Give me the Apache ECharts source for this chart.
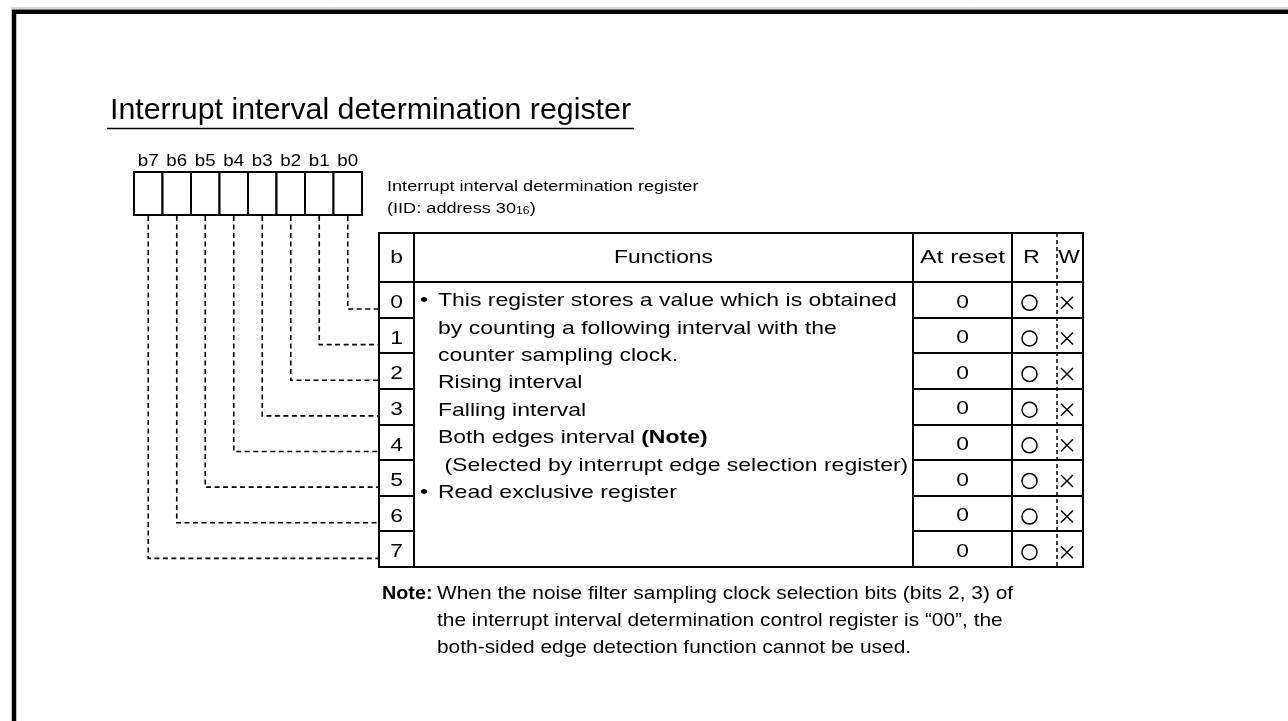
<!DOCTYPE html>
<html><head><meta charset="utf-8">
<script src="https://cdn.jsdelivr.net/npm/echarts@6/dist/echarts.min.js"></script>
<style>html,body{margin:0;padding:0;background:#fff}#c{width:1288px;height:721px}</style>
</head><body><div id="c"></div>
<script>
// ---------------- data ----------------
const titleText = 'Interrupt interval determination register';
const registerName = 'Interrupt interval determination register';
const registerAddress = ['(IID: address 30', '16', ')'];
const bitLabels = ['b7', 'b6', 'b5', 'b4', 'b3', 'b2', 'b1', 'b0'];
const headerLabels = ['b', 'Functions', 'At reset', 'R', 'W'];
const rowBits = ['0', '1', '2', '3', '4', '5', '6', '7'];
const resetValues = ['0', '0', '0', '0', '0', '0', '0', '0'];
const readAccess = ['○', '○', '○', '○', '○', '○', '○', '○'];
const writeAccess = ['×', '×', '×', '×', '×', '×', '×', '×'];
const functionLines = [
  'This register stores a value which is obtained',
  'by counting a following interval with the',
  'counter sampling clock.',
  'Rising interval',
  'Falling interval',
  'Both edges interval {b|(Note)}',
  ' (Selected by interrupt edge selection register)',
  'Read exclusive register'
];
const bulletLines = [0, 7];
const noteLabel = 'Note:';
const noteLines = [
  'When the noise filter sampling clock selection bits (bits 2, 3) of',
  'the interrupt interval determination control register is \u201c00\u201d, the',
  'both-sided edge detection function cannot be used.'
];

// ---------------- layout / style ----------------
const FF = '"Liberation Sans", Arial, Helvetica, sans-serif';
const L = {
  frame: { left: 14, top: 11.75, lw: 4.5, grey: 8 },
  title: { x: 110, y: 110.5, size: 29, sx: 1.046, ulY: 128.5, ulX0: 107, ulX1: 634 },
  bits: { x0: 134, cw: 28.5, top: 172, bottom: 215, labelY: 162, size: 16, sx: 1.17 },
  desc: { x: 387, y1: 187, y2: 209, size: 15.5, sub: 10.5, sx: 1.17 },
  table: { cols: [379, 414, 913, 1012, 1057, 1083], top: 233, head: 282, bottom: 567,
           headY: 257.5, hsize: 19, hsx: [1.2, 1.2, 1.3, 1.2, 1.2], size: 19, sx: 1.2, dy: 3 },
  fn: { bulletX: 420, x: 438, y0: 301, dy: 27.4, size: 19, sx: 1.21 },
  link: { dy: 27, lw: 1.6, dash: [5, 3.5] },
  mark: { rx: 1029.5, wx: 1067, r: 7.5, xh: 6 },
  note: { x: 382, x2: 437, y0: 594, dy: 27, size: 19, sx: 1.1 }
};
const rowH = (L.table.bottom - L.table.head) / rowBits.length;

const measureCtx = document.createElement('canvas').getContext('2d');
function textWidth(str, size, weight) {
  measureCtx.font = (weight || 'normal') + ' ' + size + 'px ' + FF;
  return measureCtx.measureText(str).width;
}

function T(api, x, y, text, size, o) {
  o = o || {};
  const p = api.coord([x, y]);
  const align = o.align || 'left';
  return {
    type: 'text', x: p[0], y: p[1], scaleX: o.sx || 1,
    style: {
      text: text, fill: '#000', fontSize: size, fontFamily: FF,
      fontWeight: o.bold ? 'bold' : 'normal',
      align: align, verticalAlign: 'middle', textAlign: align, textVerticalAlign: 'middle',
      rich: o.rich
    }
  };
}
function LINE(api, x1, y1, x2, y2, lw, dash) {
  const a = api.coord([x1, y1]), b = api.coord([x2, y2]);
  return { type: 'line', shape: { x1: a[0], y1: a[1], x2: b[0], y2: b[1] },
           style: { stroke: '#000', lineWidth: lw || 2, lineDash: dash || null, fill: null } };
}
function POLY(api, pts, lw, dash, color) {
  return { type: 'polyline', shape: { points: pts.map(p => api.coord(p)) },
           style: { stroke: color || '#000', lineWidth: lw, lineDash: dash || null, fill: null } };
}

// ---------------- series ----------------
const frameSeries = {
  type: 'custom', coordinateSystem: 'cartesian2d', clip: false, data: [[0, 0]],
  renderItem(params, api) {
    const f = L.frame, t = L.title, d = L.desc;
    const w0 = textWidth(registerAddress[0], d.size) * d.sx;
    const w1 = textWidth(registerAddress[1], d.sub) * d.sx;
    return { type: 'group', children: [
      POLY(api, [[f.left - 3, f.grey], [1300, f.grey]], 1, null, '#b0b0b0'),
      POLY(api, [[f.left, 740], [f.left, f.top], [1300, f.top]], f.lw),
      T(api, t.x, t.y, titleText, t.size, { sx: t.sx }),
      LINE(api, t.ulX0, t.ulY, t.ulX1, t.ulY, 1.5),
      T(api, d.x, d.y1, registerName, d.size, { sx: d.sx }),
      T(api, d.x, d.y2, registerAddress[0], d.size, { sx: d.sx }),
      T(api, d.x + w0, d.y2 + 2.5, registerAddress[1], d.sub, { sx: d.sx }),
      T(api, d.x + w0 + w1, d.y2, registerAddress[2], d.size, { sx: d.sx })
    ] };
  }
};

const bitSeries = {
  type: 'custom', coordinateSystem: 'cartesian2d', clip: false,
  data: bitLabels.map((l, i) => [i, 7 - i]),
  renderItem(params, api) {
    const i = api.value(0), bit = api.value(1), b = L.bits;
    const x0 = b.x0 + i * b.cw, cx = x0 + b.cw / 2;
    const ly = L.table.head + bit * rowH + L.link.dy;
    const p0 = api.coord([x0, b.top]), p1 = api.coord([x0 + b.cw, b.bottom]);
    return { type: 'group', children: [
      POLY(api, [[cx, b.bottom + 1], [cx, ly], [L.table.cols[0], ly]], L.link.lw, L.link.dash),
      { type: 'rect', shape: { x: p0[0], y: p0[1], width: p1[0] - p0[0], height: p1[1] - p0[1] },
        style: { fill: '#fff', stroke: '#000', lineWidth: 2 } },
      T(api, cx, b.labelY, bitLabels[i], b.size, { align: 'center', sx: b.sx })
    ] };
  }
};

const tableSeries = {
  type: 'custom', coordinateSystem: 'cartesian2d', clip: false, data: [[0, 0]],
  renderItem(params, api) {
    const t = L.table, c = t.cols;
    const ch = [];
    ch.push(LINE(api, c[0], t.top, c[5], t.top));
    ch.push(LINE(api, c[0], t.head, c[5], t.head));
    ch.push(LINE(api, c[0], t.bottom, c[5], t.bottom));
    [0, 1, 2, 3, 5].forEach(k => ch.push(LINE(api, c[k], t.top - 1, c[k], t.bottom + 1)));
    ch.push(LINE(api, c[4], t.top, c[4], t.bottom, 1.5, [4, 3]));
    headerLabels.forEach((h, k) => {
      let cx = (c[k] + c[k + 1]) / 2;
      if (k === 3) cx -= 3;
      if (k === 4) cx -= 1;
      ch.push(T(api, cx, t.headY, h, t.hsize, { align: 'center', sx: t.hsx[k] }));
    });
    return { type: 'group', children: ch };
  }
};

const rowSeries = {
  type: 'custom', coordinateSystem: 'cartesian2d', clip: false,
  data: rowBits.map((b, i) => [i]),
  renderItem(params, api) {
    const i = api.value(0), t = L.table, c = t.cols, m = L.mark;
    const top = t.head + i * rowH, cy = top + rowH / 2 + t.dy;
    const ch = [];
    if (i > 0) {
      ch.push(LINE(api, c[0], Math.round(top), c[1], Math.round(top)));
      ch.push(LINE(api, c[2], Math.round(top), c[5], Math.round(top)));
    }
    ch.push(T(api, (c[0] + c[1]) / 2, cy, rowBits[i], t.size, { align: 'center', sx: t.sx }));
    ch.push(T(api, (c[2] + c[3]) / 2, cy - 0.5, resetValues[i], t.size, { align: 'center', sx: t.sx }));
    if (readAccess[i] === '○') {
      const p = api.coord([m.rx, cy]);
      const r = api.size([m.r, m.r]);
      ch.push({ type: 'circle', shape: { cx: p[0], cy: p[1], r: r[0] },
                style: { fill: null, stroke: '#000', lineWidth: 1.5 } });
    }
    if (writeAccess[i] === '×') {
      ch.push(LINE(api, m.wx - m.xh, cy - m.xh, m.wx + m.xh, cy + m.xh, 1.4));
      ch.push(LINE(api, m.wx - m.xh, cy + m.xh, m.wx + m.xh, cy - m.xh, 1.4));
    }
    return { type: 'group', children: ch };
  }
};

const fnSeries = {
  type: 'custom', coordinateSystem: 'cartesian2d', clip: false,
  data: functionLines.map((s, i) => [i]),
  renderItem(params, api) {
    const i = api.value(0), f = L.fn;
    const y = f.y0 + i * f.dy;
    const ch = [T(api, f.x, y, functionLines[i], f.size, {
      sx: f.sx,
      rich: { b: { fontSize: f.size, fontFamily: FF, fontWeight: 'bold', fill: '#000' } }
    })];
    if (bulletLines.indexOf(i) >= 0) ch.push(T(api, f.bulletX, y, '\u2022', f.size, { sx: f.sx }));
    return { type: 'group', children: ch };
  }
};

const noteSeries = {
  type: 'custom', coordinateSystem: 'cartesian2d', clip: false,
  data: noteLines.map((s, i) => [i]),
  renderItem(params, api) {
    const i = api.value(0), n = L.note;
    const y = n.y0 + i * n.dy;
    const ch = [T(api, n.x2, y, noteLines[i], n.size, { sx: n.sx })];
    if (i === 0) ch.push(T(api, n.x, y, noteLabel, n.size, { bold: true, sx: 1.04 }));
    return { type: 'group', children: ch };
  }
};

const chart = echarts.init(document.getElementById('c'), null, { renderer: 'canvas' });
chart.setOption({
  animation: false,
  backgroundColor: '#fff',
  grid: { left: 0, right: 0, top: 0, bottom: 0, containLabel: false },
  xAxis: { type: 'value', min: 0, max: 1288, show: false },
  yAxis: { type: 'value', min: 0, max: 721, inverse: true, show: false },
  series: [frameSeries, tableSeries, bitSeries, rowSeries, fnSeries, noteSeries]
});
</script>
</body></html>
